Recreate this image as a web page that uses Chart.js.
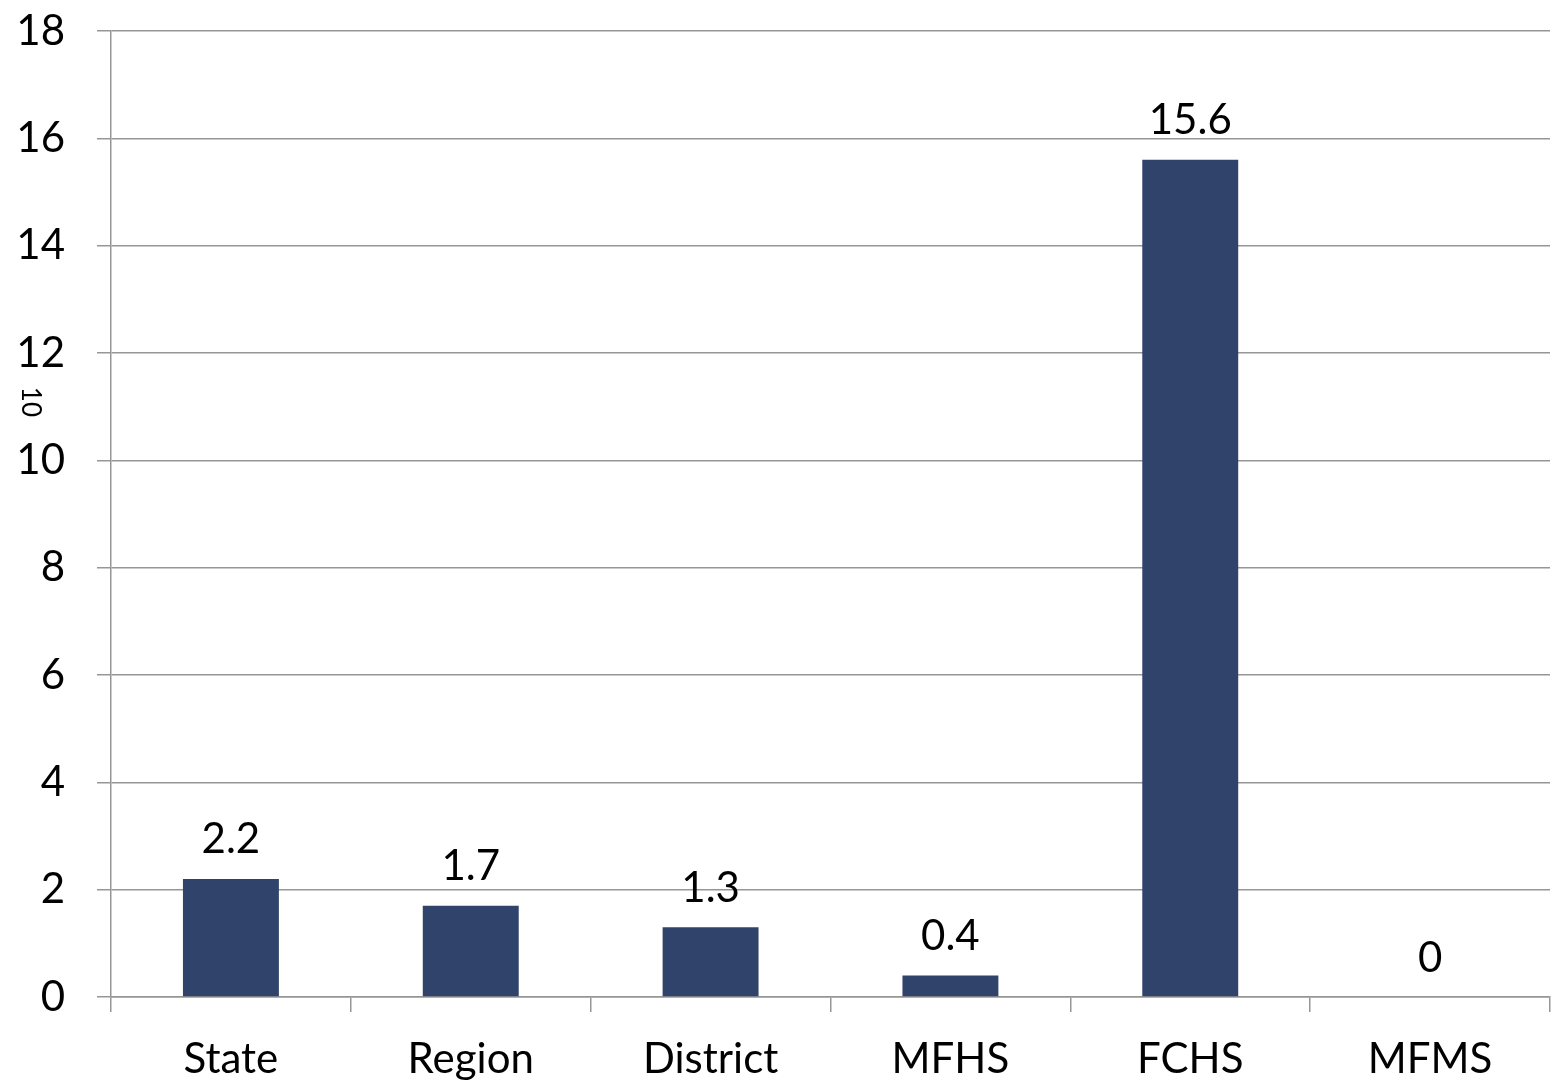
<!DOCTYPE html>
<html>
<head>
<meta charset="utf-8">
<title>Bar chart</title>
<script src="https://cdn.jsdelivr.net/npm/chart.js@4/dist/chart.umd.min.js"></script>
<style>
	html, body { margin: 0; padding: 0; background: #fff; }
	#wrap { width: 1557px; height: 1081px; }
</style>
</head>
<body>
<div id="wrap"><canvas id="chart" width="1557" height="1081"></canvas></div>
<script>
const categories = ['State', 'Region', 'District', 'MFHS', 'FCHS', 'MFMS'];
const values = [2.2, 1.7, 1.3, 0.4, 15.6, 0];
const axisTitle = '10';

const FONT = 'Lato, "Open Sans", sans-serif';
const GRID = '#969696';

// value printed above each bar
const valueLabels = {
	id: 'valueLabels',
	afterDatasetsDraw(chart) {
		const { ctx } = chart;
		const meta = chart.getDatasetMeta(0);
		ctx.save();
		ctx.font = `42px ${FONT}`;
		ctx.fillStyle = '#000';
		ctx.textAlign = 'center';
		ctx.textBaseline = 'bottom';
		meta.data.forEach((bar, i) => {
			ctx.fillText(String(values[i]), bar.x, bar.y - 18);
		});
		ctx.restore();
	}
};

// small rotated title on the left edge
const sideTitle = {
	id: 'sideTitle',
	afterDraw(chart) {
		const { ctx, chartArea } = chart;
		ctx.save();
		ctx.translate(30, chartArea.top + (chartArea.bottom - chartArea.top) * 0.384);
		ctx.rotate(Math.PI / 2);
		ctx.font = `26px ${FONT}`;
		ctx.fillStyle = '#000';
		ctx.textAlign = 'center';
		ctx.textBaseline = 'middle';
		ctx.fillText(axisTitle, 0, 0);
		ctx.restore();
	}
};

new Chart(document.getElementById('chart'), {
	type: 'bar',
	data: {
		labels: categories,
		datasets: [{
			data: values,
			backgroundColor: '#30436a',
			borderWidth: 0,
			barPercentage: 0.4,
			categoryPercentage: 1
		}]
	},
	options: {
		responsive: false,
		animation: false,
		layout: { padding: { top: 31, right: 7, left: 0, bottom: 0 } },
		plugins: {
			legend: { display: false },
			tooltip: { enabled: false }
		},
		scales: {
			x: {
				offset: true,
				afterFit: (scale) => {
					scale.height = 84;
					scale.paddingLeft = 0;
					scale.paddingRight = 0;
				},
				grid: {
					offset: true,
					drawOnChartArea: false,
					color: GRID,
					tickLength: 15,
					lineWidth: 1.5
				},
				border: { color: GRID, width: 1.5 },
				ticks: {
					color: '#000',
					font: { family: FONT, size: 42 },
					padding: 22,
					maxRotation: 0
				}
			},
			y: {
				min: 0,
				max: 18,
				afterFit: (scale) => {
					scale.width = 111;
					scale.paddingTop = 0;
					scale.paddingBottom = 0;
				},
				grid: {
					color: GRID,
					tickLength: 14,
					lineWidth: 1.5
				},
				border: { color: GRID, width: 1.5 },
				ticks: {
					stepSize: 2,
					color: '#000',
					font: { family: FONT, size: 42 },
					padding: 32
				}
			}
		}
	},
	plugins: [valueLabels, sideTitle]
});
</script>
</body>
</html>
